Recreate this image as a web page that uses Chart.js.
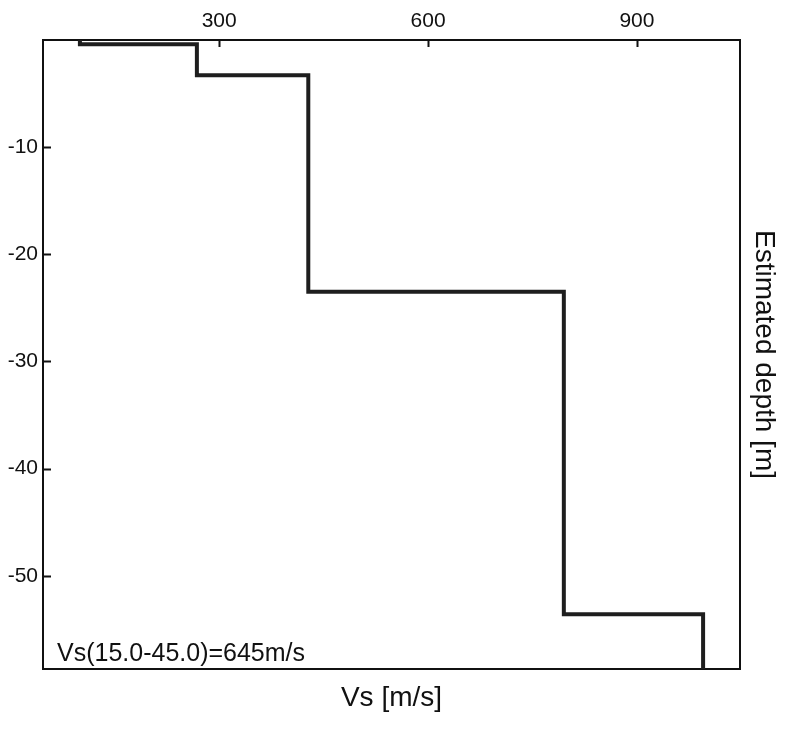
<!DOCTYPE html>
<html>
<head>
<meta charset="utf-8">
<script src="https://cdn.jsdelivr.net/npm/chart.js@4.4.1/dist/chart.umd.min.js"></script>
<style>
  html, body { margin: 0; padding: 0; background: #fff; }
  #wrap { width: 786px; height: 731px; position: relative; }
</style>
</head>
<body>
<div id="wrap"><canvas id="c" width="786" height="731"></canvas></div>
<script>
// Layered shear-wave velocity profile
const layerVs = [100, 268, 428, 795, 995];          // m/s
const layerTop = [0, -0.4, -3.3, -23.5, -53.6];      // m
const layerBottom = [-0.4, -3.3, -23.5, -53.6, -58.7]; // m

const xTicks = [300, 600, 900];
const yTicks = [-10, -20, -30, -40, -50];
const xRange = [47, 1048];
const yRange = [-58.7, 0];

const annotationText = 'Vs(15.0-45.0)=645m/s';
const xTitle = 'Vs [m/s]';
const yTitle = 'Estimated depth [m]';

// build step points from the layer table
const profile = [];
for (let i = 0; i < layerVs.length; i++) {
  profile.push({ x: layerVs[i], y: layerTop[i] });
  profile.push({ x: layerVs[i], y: layerBottom[i] });
}

const FONT = 'Liberation Sans, Arial, sans-serif';

const innerTicks = {
  id: 'innerTicks',
  afterDatasetsDraw(chart) {
    const { ctx, chartArea, scales } = chart;
    ctx.save();
    ctx.strokeStyle = '#111';
    ctx.lineWidth = 2;
    ctx.beginPath();
    xTicks.forEach(v => {
      const px = Math.round(scales.x.getPixelForValue(v)) + 0.5;
      ctx.moveTo(px, chartArea.top);
      ctx.lineTo(px, chartArea.top + 7);
    });
    yTicks.forEach(v => {
      const py = Math.round(scales.y.getPixelForValue(v)) + 0.5;
      ctx.moveTo(chartArea.left, py);
      ctx.lineTo(chartArea.left + 8, py);
    });
    ctx.stroke();
    ctx.fillStyle = '#111';
    ctx.font = '25px ' + FONT;
    ctx.textAlign = 'left';
    ctx.textBaseline = 'alphabetic';
    ctx.fillText(annotationText, chartArea.left + 14, chartArea.bottom - 8);
    ctx.restore();
  }
};

new Chart(document.getElementById('c'), {
  type: 'line',
  data: {
    datasets: [{
      data: profile,
      borderColor: '#1e1e1e',
      borderWidth: 4,
      pointRadius: 0,
      fill: false,
      tension: 0,
      borderJoinStyle: 'miter',
      borderCapStyle: 'butt'
    }]
  },
  options: {
    responsive: false,
    animation: false,
    events: [],
    layout: { padding: 0 },
    plugins: { legend: { display: false }, tooltip: { enabled: false }, title: { display: false } },
    scales: {
      x: {
        type: 'linear', position: 'top', min: xRange[0], max: xRange[1],
        afterBuildTicks: s => { s.ticks = xTicks.map(v => ({ value: v })); },
        afterFit: s => { s.height = 40; },
        grid: { display: true, drawOnChartArea: false, drawTicks: false },
        border: { display: true, color: '#111', width: 2 },
        ticks: { color: '#111', font: { family: FONT, size: 21 }, padding: 6, maxRotation: 0 }
      },
      x2: {
        type: 'linear', position: 'bottom', min: xRange[0], max: xRange[1],
        afterFit: s => { s.height = 62; },
        grid: { display: false, drawTicks: false },
        border: { display: true, color: '#111', width: 2 },
        ticks: { display: false },
        title: { display: true, text: xTitle, color: '#111', font: { family: FONT, size: 28 }, padding: { top: 0, bottom: 16 } }
      },
      y: {
        type: 'linear', position: 'left', min: yRange[0], max: yRange[1],
        afterBuildTicks: s => { s.ticks = yTicks.map(v => ({ value: v })); },
        afterFit: s => { s.width = 43; },
        grid: { display: true, drawOnChartArea: false, drawTicks: false },
        border: { display: true, color: '#111', width: 2 },
        ticks: { color: '#111', font: { family: FONT, size: 21 }, padding: 5 }
      },
      y2: {
        type: 'linear', position: 'right', min: yRange[0], max: yRange[1],
        afterFit: s => { s.width = 46; },
        grid: { display: false, drawTicks: false },
        border: { display: true, color: '#111', width: 2 },
        ticks: { display: false },
        title: { display: true, text: yTitle, color: '#111', font: { family: FONT, size: 28 }, padding: { top: 5, bottom: 0 } }
      }
    }
  },
  plugins: [innerTicks]
});
</script>
</body>
</html>
